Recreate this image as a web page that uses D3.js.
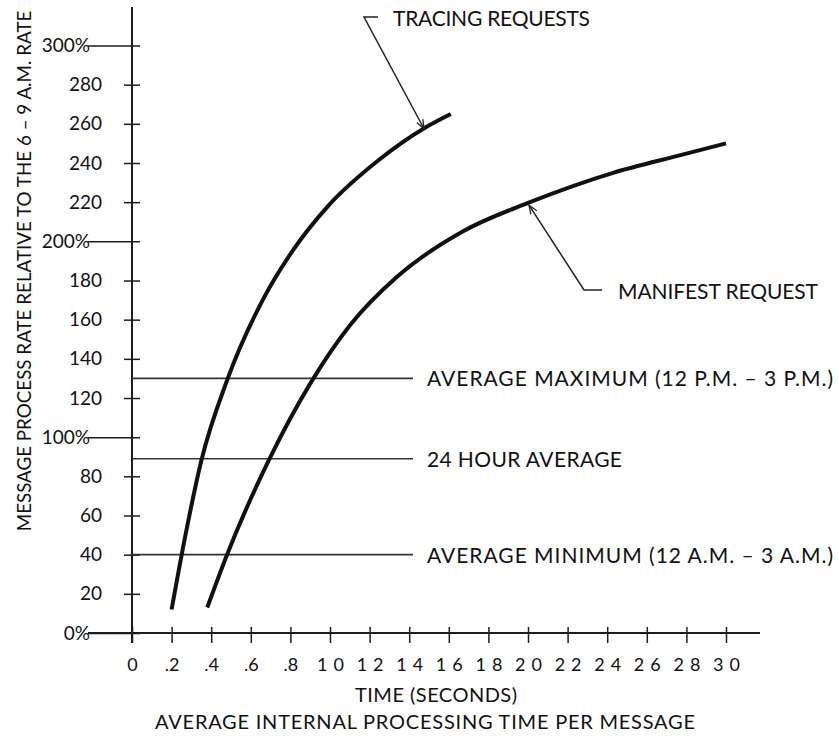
<!DOCTYPE html>
<html>
<head>
<meta charset="utf-8">
<script src="https://cdn.jsdelivr.net/npm/d3@7"></script>
<style>
  html, body { margin: 0; padding: 0; background: #fff; }
  svg text { font-family: Lato, "DejaVu Sans", sans-serif; fill: #111; }
</style>
</head>
<body>
<div id="chart"></div>
<script>
// --- data ---
const xTickValues = [0, 0.2, 0.4, 0.6, 0.8, 1.0, 1.2, 1.4, 1.6, 1.8, 2.0, 2.2, 2.4, 2.6, 2.8, 3.0];
const xTickLabels = ["0", ".2", ".4", ".6", ".8", "10", "12", "14", "16", "18", "20", "22", "24", "26", "28", "30"];
const yTickValues = [0, 20, 40, 60, 80, 100, 120, 140, 160, 180, 200, 220, 240, 260, 280, 300];
const yTickLabels = ["0%", "20", "40", "60", "80", "100%", "120", "140", "160", "180", "200%", "220", "240", "260", "280", "300%"];

// tracing requests curve (time in seconds, rate in %)
const tracingTime = [0.20, 0.27, 0.35, 0.48, 0.66, 0.81, 0.99, 1.24, 1.48, 1.61];
const tracingRate = [12, 50, 88, 129, 170, 195, 218, 241, 258, 265];

// manifest request curve
const manifestTime = [0.38, 0.48, 0.69, 0.91, 1.10, 1.34, 1.67, 2.01, 2.43, 2.77, 3.0];
const manifestRate = [13, 40, 88, 129, 157, 182, 205, 220, 235, 244, 250];

// horizontal reference levels
const refNames = ["AVERAGE MAXIMUM (12 P.M. \u2013 3 P.M.)", "24 HOUR AVERAGE", "AVERAGE MINIMUM (12 A.M. \u2013 3 A.M.)"];
const refValues = [130, 89, 40];
const refWidths = [406, 195, 406];

// --- drawing ---
const width = 839, height = 738;

const svg = d3.select("#chart").append("svg")
    .attr("width", width)
    .attr("height", height);

const x = d3.scaleLinear().domain([0, 3.0]).range([132, 726]);
const y = d3.scaleLinear().domain([0, 300]).range([633, 45.5]);

const defs = svg.append("defs");
defs.append("marker")
    .attr("id", "arrow")
    .attr("viewBox", "0 -5 10 10")
    .attr("refX", 9).attr("refY", 0)
    .attr("markerWidth", 10).attr("markerHeight", 10)
    .attr("markerUnits", "userSpaceOnUse")
    .attr("orient", "auto")
  .append("path")
    .attr("d", "M0,-3.5L9,0L0,3.5")
    .attr("fill", "none")
    .attr("stroke", "#222")
    .attr("stroke-width", 1.3);

// axis lines
svg.append("line")
    .attr("x1", x(0)).attr("x2", x(0))
    .attr("y1", 7).attr("y2", 643)
    .attr("stroke", "#1c1c1c").attr("stroke-width", 2);
svg.append("line")
    .attr("x1", 88).attr("x2", 760)
    .attr("y1", y(0)).attr("y2", y(0))
    .attr("stroke", "#1c1c1c").attr("stroke-width", 2);

// x axis
const xAxis = svg.append("g")
    .attr("transform", `translate(0,${y(0)})`)
    .call(d3.axisBottom(x)
        .tickValues(xTickValues)
        .tickFormat((d, i) => xTickLabels[i])
        .tickSize(10)
        .tickPadding(15));
xAxis.select(".domain").remove();
xAxis.selectAll(".tick line")
    .attr("y1", -6)
    .attr("stroke", "#1c1c1c").attr("stroke-width", 1.5);
xAxis.selectAll(".tick text")
    .attr("font-size", 18)
    .attr("font-family", "Lato, sans-serif")
    .attr("fill", "#111")
    .attr("letter-spacing", (d, i) => i >= 5 ? 6 : 0)
    .attr("dx", (d, i) => i >= 5 ? 3 : 0);

// y axis
const isMajor = v => v % 100 === 0;
const yAxis = svg.append("g")
    .attr("transform", `translate(${x(0)},0)`)
    .call(d3.axisLeft(y)
        .tickValues(yTickValues)
        .tickFormat((d, i) => yTickLabels[i])
        .tickSize(0));
yAxis.select(".domain").remove();
yAxis.selectAll(".tick line")
    .attr("x1", d => isMajor(d) ? -44 : -8)
    .attr("x2", 8)
    .attr("stroke", "#1c1c1c").attr("stroke-width", 1.5);
yAxis.selectAll(".tick text")
    .attr("x", d => isMajor(d) ? -42 : -30)
    .attr("font-size", 19)
    .attr("font-family", "Lato, sans-serif")
    .attr("fill", "#111");

// reference levels
const refs = svg.append("g");
refs.selectAll("line")
    .data(refValues)
    .join("line")
    .attr("x1", x(0)).attr("x2", 413)
    .attr("y1", d => y(d)).attr("y2", d => y(d))
    .attr("stroke", "#333").attr("stroke-width", 1.6);
refs.selectAll("text")
    .data(refValues)
    .join("text")
    .attr("x", 427)
    .attr("y", d => y(d) + 8)
    .attr("font-size", 21)
    .attr("textLength", (d, i) => refWidths[i])
    .text((d, i) => refNames[i]);

// curves
const line = d3.line()
    .x(d => x(d[0]))
    .y(d => y(d[1]))
    .curve(d3.curveMonotoneX);

svg.append("path")
    .datum(tracingTime.map((t, i) => [t, tracingRate[i]]))
    .attr("d", line)
    .attr("fill", "none")
    .attr("stroke", "#111")
    .attr("stroke-width", 4);

svg.append("path")
    .datum(manifestTime.map((t, i) => [t, manifestRate[i]]))
    .attr("d", line)
    .attr("fill", "none")
    .attr("stroke", "#111")
    .attr("stroke-width", 4);

// annotations
svg.append("path")
    .attr("d", `M378,17L364,17L${x(1.48) - 1},${y(258) + 1}`)
    .attr("fill", "none")
    .attr("stroke", "#222").attr("stroke-width", 1.5)
    .attr("marker-end", "url(#arrow)");
svg.append("text")
    .attr("x", 393).attr("y", 26)
    .attr("font-size", 21)
    .attr("textLength", 197)
    .text("TRACING REQUESTS");

svg.append("path")
    .attr("d", `M602,290L584,290L${x(2.0) + 1},${y(220) + 3}`)
    .attr("fill", "none")
    .attr("stroke", "#222").attr("stroke-width", 1.5)
    .attr("marker-end", "url(#arrow)");
svg.append("text")
    .attr("x", 618).attr("y", 299)
    .attr("font-size", 21)
    .attr("textLength", 200)
    .text("MANIFEST REQUEST");

// axis titles
svg.append("text")
    .attr("transform", "translate(31,271) rotate(-90)")
    .attr("text-anchor", "middle")
    .attr("font-size", 18.8)
    .text("MESSAGE PROCESS RATE RELATIVE TO THE 6 \u2013 9 A.M. RATE");

svg.append("text")
    .attr("x", 355).attr("y", 702)
    .attr("font-size", 20)
    .attr("textLength", 162)
    .text("TIME  (SECONDS)");

svg.append("text")
    .attr("x", 155).attr("y", 729)
    .attr("font-size", 20)
    .attr("textLength", 540)
    .text("AVERAGE INTERNAL PROCESSING TIME PER MESSAGE");
</script>
</body>
</html>
